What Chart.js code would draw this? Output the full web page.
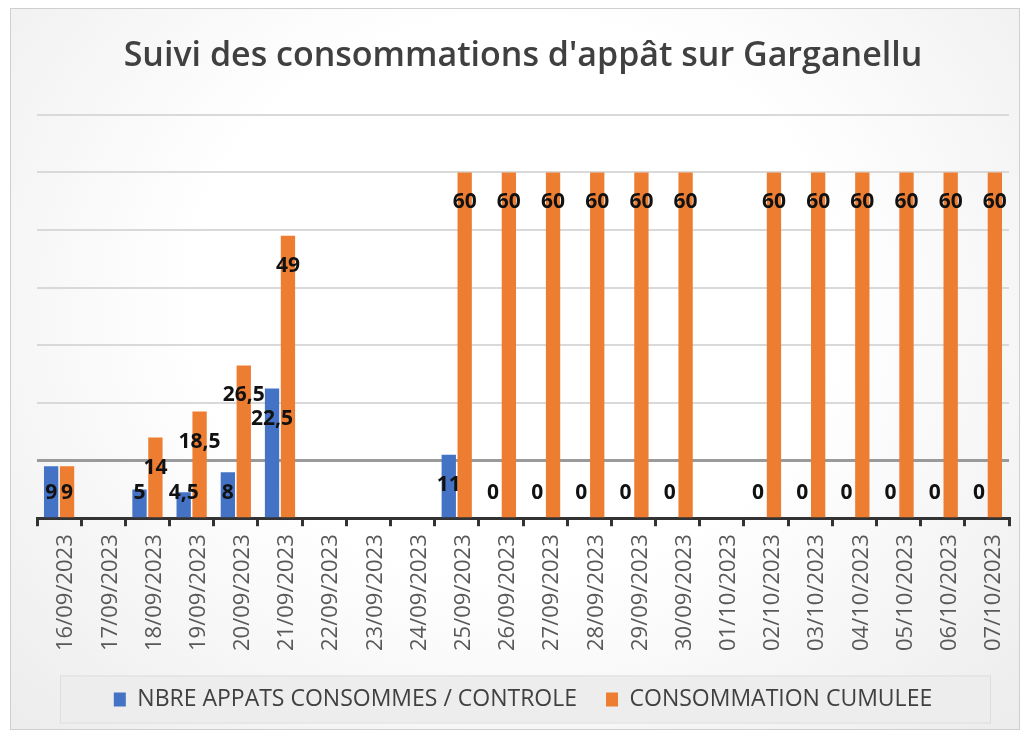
<!DOCTYPE html>
<html>
<head>
<meta charset="utf-8">
<script src="https://cdn.jsdelivr.net/npm/chart.js@4"></script>
<style>
  html, body { margin: 0; padding: 0; background: #ffffff; }
  #wrap {
    position: absolute; left: 10px; top: 8px; width: 1008px; height: 720px;
    border: 1px solid #cfcfcf;
    background: radial-gradient(ellipse at 50% 40%, #ffffff 45%, #ececec 100%);
  }
  #chart { position: absolute; left: -11px; top: -9px; }
</style>
</head>
<body>
<div id="wrap"><canvas id="chart" width="1023" height="733"></canvas></div>
<script>
const dates = [
    "16/09/2023", "17/09/2023", "18/09/2023", "19/09/2023", "20/09/2023", "21/09/2023",
    "22/09/2023", "23/09/2023", "24/09/2023", "25/09/2023", "26/09/2023", "27/09/2023",
    "28/09/2023", "29/09/2023", "30/09/2023", "01/10/2023", "02/10/2023", "03/10/2023",
    "04/10/2023", "05/10/2023", "06/10/2023", "07/10/2023"
];
const appatsConsommes = [9, null, 5, 4.5, 8, 22.5, null, null, null, 11, 0, 0, 0, 0, 0, null, 0, 0, 0, 0, 0, 0];
const consoCumulee = [9, null, 14, 18.5, 26.5, 49, null, null, null, 60, 60, 60, 60, 60, 60, null, 60, 60, 60, 60, 60, 60];

const FONT = "'Open Sans', 'DejaVu Sans', sans-serif";

// labels sous le haut de la barre, comme Excel "extrémité intérieure"
const valueLabels = {
    id: "valueLabels",
    afterDatasetsDraw(chart) {
        const ctx = chart.ctx;
        const base = chart.scales.y.getPixelForValue(0);
        ctx.save();
        ctx.font = "bold 21px " + FONT;
        ctx.fillStyle = "#111111";
        ctx.textAlign = "center";
        ctx.textBaseline = "middle";
        chart.data.datasets.forEach((ds, i) => {
            const meta = chart.getDatasetMeta(i);
            meta.data.forEach((bar, j) => {
                const v = ds.data[j];
                if (v === null) return;
                const y = Math.min(bar.y + 30, base - 25);
                ctx.fillText(String(v).replace(".", ","), bar.x, y);
            });
        });
        ctx.restore();
    },
};

const legendBox = {
    id: "legendBox",
    beforeDraw(chart) {
        const lg = chart.legend;
        const hb = lg.legendHitBoxes[0];
        if (!hb) return;
        const ctx = chart.ctx;
        const top = hb.top + hb.height / 2 - 24;
        ctx.save();
        ctx.fillStyle = "#ededed";
        ctx.strokeStyle = "#dddddd";
        ctx.fillRect(60, top, 930, 47);
        ctx.strokeRect(60.5, top + 0.5, 930, 47);
        ctx.restore();
    },
};

new Chart(document.getElementById("chart"), {
    type: "bar",
    data: {
        labels: dates,
        datasets: [
            {
                label: "NBRE APPATS CONSOMMES / CONTROLE",
                data: appatsConsommes,
                backgroundColor: "#4472c4",
            },
            {
                label: "CONSOMMATION CUMULEE",
                data: consoCumulee,
                backgroundColor: "#ed7d31",
            },
        ],
    },
    options: {
        responsive: false,
        animation: false,
        categoryPercentage: 0.72,
        barPercentage: 0.9,
        layout: { padding: { left: 37, right: 14, top: 0, bottom: 12 } },
        scales: {
            x: {
                grid: {
                    drawOnChartArea: false,
                    drawTicks: true,
                    tickLength: 8,
                    color: "#333333",
                    lineWidth: 3,
                },
                border: { color: "#333333", width: 3 },
                ticks: {
                    minRotation: 90,
                    maxRotation: 90,
                    autoSkip: false,
                    padding: 8,
                    labelOffset: 7,
                    color: "#595959",
                    font: { family: FONT, size: 22 },
                },
            },
            y: {
                min: 0,
                max: 70,
                ticks: { display: false, stepSize: 10 },
                border: { display: false },
                grid: {
                    drawTicks: false,
                    color: (c) => (c.tick.value === 10 ? "#9a9a9a" : "#d9d9d9"),
                    lineWidth: (c) => (c.tick.value === 10 ? 3 : 2),
                },
            },
        },
        plugins: {
            title: {
                display: true,
                text: "Suivi des consommations d'appât sur Garganellu",
                color: "#404040",
                font: { family: FONT, size: 34, weight: "600" },
                padding: { top: 36, bottom: 38 },
            },
            legend: {
                position: "bottom",
                labels: {
                    color: "#404040",
                    font: { family: FONT, size: 23 },
                    boxWidth: 12,
                    boxHeight: 14,
                    padding: 29,
                },
            },
            tooltip: { enabled: false },
        },
    },
    plugins: [valueLabels, legendBox],
});
</script>
</body>
</html>
